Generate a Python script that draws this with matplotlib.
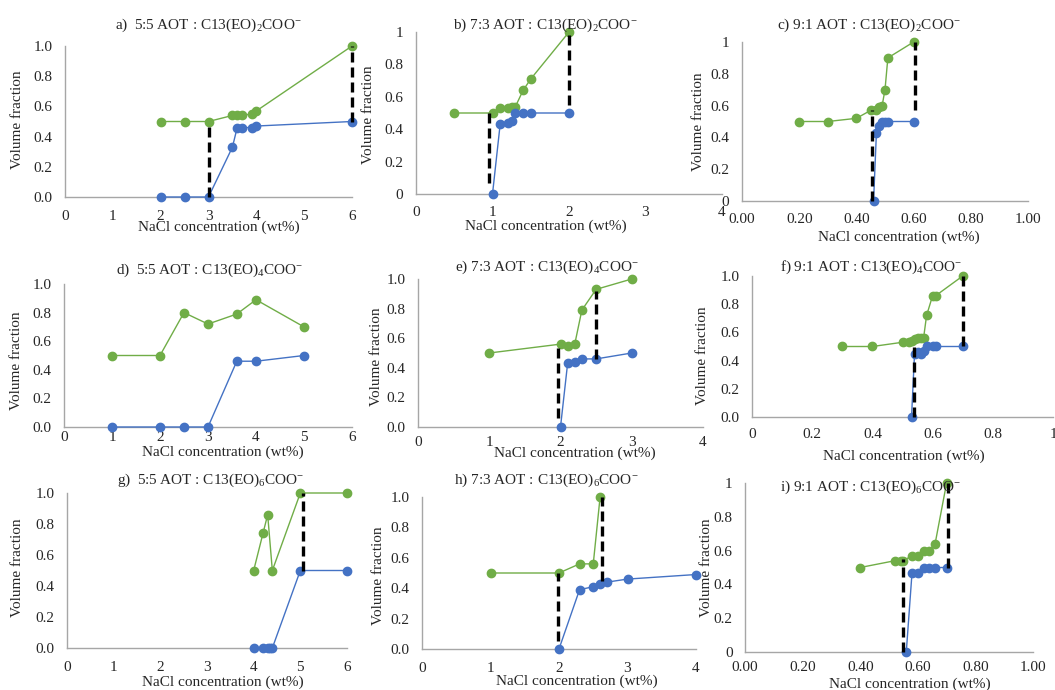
import matplotlib
matplotlib.use("Agg")
import matplotlib.pyplot as plt

# ---- data ----
a_green_x = [2, 2.5, 3, 3.5, 3.6, 3.7, 3.9, 4, 6]
a_green_y = [0.5, 0.5, 0.5, 0.54, 0.54, 0.54, 0.55, 0.57, 1.0]
a_blue_x = [2, 2.5, 3, 3.5, 3.6, 3.7, 3.9, 4, 6]
a_blue_y = [0, 0, 0, 0.33, 0.46, 0.46, 0.46, 0.47, 0.5]
a_dash = [(3, 0, 0.5), (6, 0.5, 1.0)]

b_green_x = [0.5, 1.0, 1.1, 1.2, 1.25, 1.3, 1.4, 1.5, 2.0]
b_green_y = [0.5, 0.5, 0.53, 0.53, 0.54, 0.54, 0.64, 0.71, 1.0]
b_blue_x = [1.0, 1.1, 1.2, 1.25, 1.3, 1.4, 1.5, 2.0]
b_blue_y = [0, 0.43, 0.44, 0.45, 0.5, 0.5, 0.5, 0.5]
b_dash = [(0.96, 0.07, 0.5), (2.0, 0.55, 1.0)]

c_green_x = [0.2, 0.3, 0.4, 0.45, 0.47, 0.48, 0.49, 0.5, 0.51, 0.6]
c_green_y = [0.5, 0.5, 0.52, 0.57, 0.57, 0.59, 0.6, 0.7, 0.9, 1.0]
c_blue_x = [0.46, 0.47, 0.48, 0.49, 0.5, 0.51, 0.6]
c_blue_y = [0, 0.43, 0.47, 0.5, 0.5, 0.5, 0.5]
c_dash = [(0.455, 0, 0.57), (0.605, 0.57, 1.0)]

d_green_x = [1, 2, 2.5, 3, 3.6, 4, 5]
d_green_y = [0.5, 0.5, 0.8, 0.72, 0.79, 0.89, 0.7]
d_blue_x = [1, 2, 2.5, 3, 3.6, 4, 5]
d_blue_y = [0, 0, 0, 0, 0.46, 0.46, 0.5]
d_dash = []

e_green_x = [1, 2, 2.1, 2.2, 2.3, 2.5, 3]
e_green_y = [0.5, 0.56, 0.55, 0.56, 0.79, 0.93, 1.0]
e_blue_x = [2, 2.1, 2.2, 2.3, 2.5, 3]
e_blue_y = [0, 0.43, 0.44, 0.46, 0.46, 0.5]
e_dash = [(1.97, 0.06, 0.55), (2.5, 0.46, 0.92)]

f_green_x = [0.3, 0.4, 0.5, 0.52, 0.53, 0.54, 0.55, 0.56, 0.57, 0.58, 0.6, 0.61, 0.7]
f_green_y = [0.5, 0.5, 0.53, 0.53, 0.54, 0.55, 0.56, 0.56, 0.56, 0.72, 0.86, 0.86, 1.0]
f_blue_x = [0.53, 0.54, 0.55, 0.56, 0.57, 0.58, 0.6, 0.61, 0.7]
f_blue_y = [0, 0.45, 0.46, 0.45, 0.47, 0.5, 0.5, 0.5, 0.5]
f_dash = [(0.537, 0, 0.5), (0.70, 0.5, 1.0)]

g_green_x = [4, 4.2, 4.3, 4.4, 5, 6]
g_green_y = [0.5, 0.74, 0.86, 0.5, 1.0, 1.0]
g_blue_x = [4, 4.2, 4.3, 4.35, 4.4, 5, 6]
g_blue_y = [0, 0, 0, 0, 0, 0.5, 0.5]
g_dash = [(5.05, 0.5, 1.0)]

h_green_x = [1, 2, 2.3, 2.5, 2.6]
h_green_y = [0.5, 0.5, 0.56, 0.56, 1.0]
h_blue_x = [2, 2.3, 2.5, 2.6, 2.7, 3, 4]
h_blue_y = [0, 0.39, 0.41, 0.43, 0.44, 0.46, 0.49]
h_dash = [(1.98, 0.05, 0.5), (2.63, 0.45, 1.0)]

i_green_x = [0.4, 0.52, 0.54, 0.55, 0.58, 0.6, 0.62, 0.64, 0.66, 0.7]
i_green_y = [0.5, 0.54, 0.54, 0.54, 0.57, 0.57, 0.6, 0.6, 0.64, 1.0]
i_blue_x = [0.56, 0.58, 0.6, 0.62, 0.64, 0.66, 0.7]
i_blue_y = [0, 0.47, 0.47, 0.5, 0.5, 0.5, 0.5]
i_dash = [(0.55, 0, 0.55), (0.706, 0.5, 1.0)]

titles = [
    "a)  5:5 AOT : C13(EO)$_2$COO$^{-}$",
    "b) 7:3 AOT : C13(EO)$_2$COO$^{-}$",
    "c) 9:1 AOT : C13(EO)$_2$COO$^{-}$",
    "d)  5:5 AOT : C13(EO)$_4$COO$^{-}$",
    "e) 7:3 AOT : C13(EO)$_4$COO$^{-}$",
    "f) 9:1 AOT : C13(EO)$_4$COO$^{-}$",
    "g)  5:5 AOT : C13(EO)$_6$COO$^{-}$",
    "h) 7:3 AOT : C13(EO)$_6$COO$^{-}$",
    "i) 9:1 AOT : C13(EO)$_6$COO$^{-}$",
]

xticks_6 = [0, 1, 2, 3, 4, 5, 6]
xticks_4 = [0, 1, 2, 3, 4]
xticks_1 = [0, 0.2, 0.4, 0.6, 0.8, 1.0]
xlabels_6 = ["0", "1", "2", "3", "4", "5", "6"]
xlabels_4 = ["0", "1", "2", "3", "4"]
xlabels_1_2dp = ["0.00", "0.20", "0.40", "0.60", "0.80", "1.00"]
xlabels_1_gen = ["0", "0.2", "0.4", "0.6", "0.8", "1"]
yticks = [0, 0.2, 0.4, 0.6, 0.8, 1.0]
ylabels_1dp = ["0.0", "0.2", "0.4", "0.6", "0.8", "1.0"]
ylabels_gen = ["0", "0.2", "0.4", "0.6", "0.8", "1"]

xlabel = "NaCl concentration (wt%)"
ylabel = "Volume fraction"

# ---- layout (pixels in a 1055x690 canvas) ----
W, H = 1055, 690
GREEN = "#70AD47"
BLUE = "#4472C4"
AXIS = "#A6A6A6"

plt.rcParams["font.family"] = ["Liberation Serif", "DejaVu Serif"]
plt.rcParams["mathtext.fontset"] = "custom"
plt.rcParams["mathtext.rm"] = "Liberation Serif"
plt.rcParams["mathtext.it"] = "Liberation Serif:italic"
plt.rcParams["font.size"] = 11

panels = [
    # data, xticks, xlabels, ylabels, axis box (x0, x1, y_bottom, y_top),
    # title xy, xlabel xy, ylabel xy, x tick-label pad (pt)
    (a_green_x, a_green_y, a_blue_x, a_blue_y, a_dash, xticks_6, xlabels_6, ylabels_1dp,
     (65, 352, 197, 46), (208, 25), (219, 227), (18, 120), 9),
    (b_green_x, b_green_y, b_blue_x, b_blue_y, b_dash, xticks_4, xlabels_4, ylabels_gen,
     (416, 722, 194, 32), (545, 25), (546, 226), (368, 115), 9),
    (c_green_x, c_green_y, c_blue_x, c_blue_y, c_dash, xticks_1, xlabels_1_2dp, ylabels_gen,
     (742, 1028, 201, 42), (869, 25), (899, 237), (698, 122), 8.3),
    (d_green_x, d_green_y, d_blue_x, d_blue_y, d_dash, xticks_6, xlabels_6, ylabels_1dp,
     (64, 352, 427, 284), (210, 270), (223, 452), (17, 361), 3.2),
    (e_green_x, e_green_y, e_blue_x, e_blue_y, e_dash, xticks_4, xlabels_4, ylabels_1dp,
     (418, 703, 427, 279), (547, 267), (575, 453), (377, 357), 6.8),
    (f_green_x, f_green_y, f_blue_x, f_blue_y, f_dash, xticks_1, xlabels_1_gen, ylabels_1dp,
     (752, 1053, 417, 276), (871, 267), (904, 456), (703, 356), 7.6),
    (g_green_x, g_green_y, g_blue_x, g_blue_y, g_dash, xticks_6, xlabels_6, ylabels_1dp,
     (67, 347, 648, 493), (211, 480), (223, 682), (18, 568), 9.7),
    (h_green_x, h_green_y, h_blue_x, h_blue_y, h_dash, xticks_4, xlabels_4, ylabels_1dp,
     (422, 696, 649, 497), (546, 480), (577, 681), (378, 576), 9.7),
    (i_green_x, i_green_y, i_blue_x, i_blue_y, i_dash, xticks_1, xlabels_1_2dp, ylabels_gen,
     (745, 1033, 652, 483), (871, 487), (910, 684), (707, 568), 6.8),
]

fig = plt.figure(figsize=(W / 100, H / 100), dpi=100)
fig.patch.set_facecolor("white")


def fx(x):
    return x / W


def fy(y):
    return 1 - y / H


for k, p in enumerate(panels):
    gx, gy, bx, by, dash, xt, xtl, ytl, bx_px, t_xy, xl_xy, yl_xy, xpad = p
    x0, x1, yb, yt = bx_px
    ax = fig.add_axes([fx(x0), fy(yb), (x1 - x0) / W, (yb - yt) / H])
    ax.set_facecolor("none")

    ax.plot(gx, gy, "-o", color=GREEN, lw=1.0, ms=6, clip_on=False, zorder=3)
    ax.plot(bx, by, "-o", color=BLUE, lw=1.0, ms=6, clip_on=False, zorder=3)
    for xd, y0, y1 in dash:
        ax.plot([xd, xd], [y0, y1], color="black", lw=2.4, ls=(0, (3, 1.5)),
                clip_on=False, zorder=4)

    ax.set_xlim(xt[0], xt[-1])
    ax.set_ylim(0, 1)
    ax.set_xticks(xt)
    ax.set_xticklabels(xtl)
    ax.set_yticks(yticks)
    ax.set_yticklabels(ytl)
    ax.tick_params(length=0, labelsize=11, colors="#262626")
    ax.tick_params(axis="y", pad=9)
    ax.tick_params(axis="x", pad=xpad)
    for s in ["top", "right"]:
        ax.spines[s].set_visible(False)
    for s in ["left", "bottom"]:
        ax.spines[s].set_color(AXIS)
        ax.spines[s].set_linewidth(1.0)

    fig.text(fx(t_xy[0]), fy(t_xy[1]), titles[k], ha="center", va="center",
             fontsize=11, color="#262626")
    fig.text(fx(xl_xy[0]), fy(xl_xy[1]), xlabel, ha="center", va="center",
             fontsize=11, color="#262626")
    fig.text(fx(yl_xy[0]), fy(yl_xy[1]), ylabel, ha="center", va="center",
             rotation=90, fontsize=11, color="#262626")

fig.savefig("out.png", dpi=100)
